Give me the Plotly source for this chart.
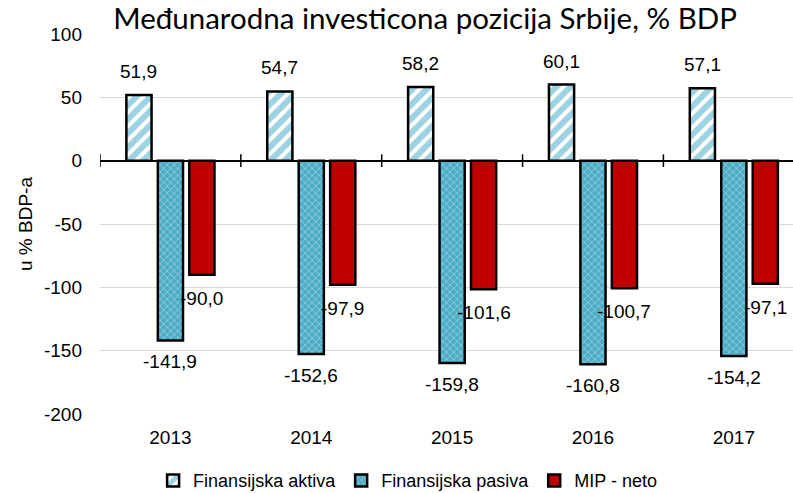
import plotly.graph_objects as go

years = ["2013", "2014", "2015", "2016", "2017"]
aktiva = [51.9, 54.7, 58.2, 60.1, 57.1]
pasiva = [-141.9, -152.6, -159.8, -160.8, -154.2]
mip_neto = [-90.0, -97.9, -101.6, -100.7, -97.1]
series_names = ["Finansijska aktiva", "Finansijska pasiva", "MIP - neto"]

y_tick_values = [-200, -150, -100, -50, 0, 50, 100]
y_tick_labels = ["-200", "-150", "-100", "-50", "0", "50", "100"]

title_text = "Međunarodna investicona pozicija Srbije, % BDP"
y_title = "u % BDP-a"

FONT = "Liberation Sans, Arial, sans-serif"
FS = 19
BLUE = "#4bacc6"

W, H = 793, 493
ML, MR, MT, MB = 100, 0, 34, 79
X_RANGE = [-0.5, 4.42]
BARGAP = 0.33


def fmt(v):
    return f"{v:.1f}".replace(".", ",")


fig = go.Figure()
fig.add_trace(go.Bar(
    x=years, y=aktiva, name=series_names[0],
    marker=dict(color="white", line=dict(color="black", width=2.5),
                pattern=dict(shape="/", fgcolor="#3aa6c3", bgcolor="white", size=10, solidity=0.6)),
))
fig.add_trace(go.Bar(
    x=years, y=pasiva, name=series_names[1],
    marker=dict(color=BLUE, line=dict(color="black", width=2.5),
                pattern=dict(shape="x", fgcolor="white", bgcolor=BLUE, size=5, solidity=0.25)),
))
fig.add_trace(go.Bar(
    x=years, y=mip_neto, name=series_names[2],
    marker=dict(color="#c00000", line=dict(color="black", width=2.5)),
))

# data labels placed through the axes (category index), shifted to each bar's slot in the group
px_per_cat = (W - ML - MR) / (X_RANGE[1] - X_RANGE[0])
slot_px = px_per_cat * (1 - BARGAP) / 3
annotations = []
for k, (vals, yshift) in enumerate([(aktiva, 11), (pasiva, -9), (mip_neto, -11)]):
    for i, v in enumerate(vals):
        annotations.append(dict(
            x=i, y=v, xref="x", yref="y", text=fmt(v), showarrow=False,
            xshift=(k - 1) * slot_px, yshift=yshift,
            yanchor="bottom" if v >= 0 else "top", xanchor="center",
            font=dict(family=FONT, size=FS, color="black"),
        ))

# cross ticks on the zero line at category boundaries
shapes = []
for i in range(len(years) + 1):
    shapes.append(dict(type="line", xref="x", yref="y", x0=i - 0.5, x1=i - 0.5, y0=-5, y1=5,
                       line=dict(color="black", width=1.5)))

fig.update_layout(
    width=W, height=H,
    margin=dict(l=ML, r=MR, t=MT, b=MB, autoexpand=False),
    paper_bgcolor="white", plot_bgcolor="white",
    barmode="group", bargap=BARGAP, bargroupgap=0.2,
    title=dict(text=title_text, font=dict(family="Lato, Open Sans, sans-serif", size=29.5, color="black"),
               x=0.536, xanchor="center", xref="container", y=0.962, yanchor="middle", yref="container",
               automargin=False),
    xaxis=dict(type="category", range=X_RANGE, showgrid=False, ticks="",
               tickfont=dict(family=FONT, size=FS, color="black"), ticklabelstandoff=10,
               showline=False, zeroline=False, automargin=False),
    yaxis=dict(range=[-200, 100], tickvals=y_tick_values, ticktext=y_tick_labels,
               showgrid=True, gridcolor="#d9d9d9", gridwidth=1,
               zeroline=True, zerolinecolor="black", zerolinewidth=1.5,
               tickfont=dict(family=FONT, size=FS, color="black"), ticklabelstandoff=17,
               title=dict(text=y_title, font=dict(family=FONT, size=FS, color="black"), standoff=6),
               showline=False, ticks="", automargin=False),
    legend=dict(orientation="h", xref="container", yref="container", x=0.514, xanchor="center",
                y=0.025, yanchor="middle", font=dict(family=FONT, size=18, color="black"),
                itemwidth=30, traceorder="normal"),
    shapes=shapes,
    annotations=annotations,
)

fig.write_html("out.html", config={"displayModeBar": False},
               post_script="document.body.style.margin='0px';")
